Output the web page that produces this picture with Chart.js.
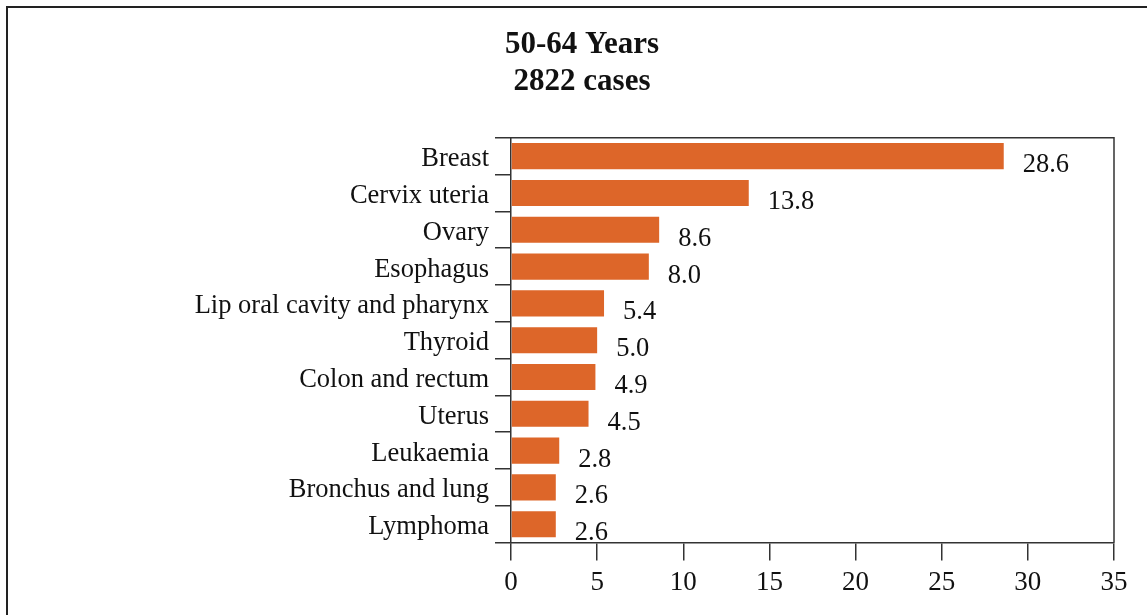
<!DOCTYPE html>
<html>
<head>
<meta charset="utf-8">
<script src="https://cdn.jsdelivr.net/npm/chart.js@4"></script>
<style>
  html, body { margin: 0; padding: 0; background: #fff; overflow: hidden; }
  #frame { position: absolute; left: 6px; top: 6px; width: 1200px; height: 700px; border: 2px solid #222; box-sizing: border-box; }
  #wrap { position: absolute; left: 0; top: 0; width: 1147px; height: 615px; }
</style>
</head>
<body>
<div id="frame"></div>
<div id="wrap"><canvas id="c" width="1147" height="615"></canvas></div>
<script>
const titleLines = ["50-64 Years", "2822 cases"];
const categories = ["Breast", "Cervix uteria", "Ovary", "Esophagus", "Lip oral cavity and pharynx", "Thyroid", "Colon and rectum", "Uterus", "Leukaemia", "Bronchus and lung", "Lymphoma"];
const values = [28.6, 13.8, 8.6, 8.0, 5.4, 5.0, 4.9, 4.5, 2.8, 2.6, 2.6];
const valueLabels = ["28.6", "13.8", "8.6", "8.0", "5.4", "5.0", "4.9", "4.5", "2.8", "2.6", "2.6"];
const xTicks = [0, 5, 10, 15, 20, 25, 30, 35];

const SERIF = "'Liberation Serif', 'Times New Roman', serif";
const AXIS = '#333';

const plotBox = {
  id: 'plotBox',
  afterDatasetsDraw(chart) {
    const { ctx, chartArea: a } = chart;
    ctx.save();
    ctx.strokeStyle = AXIS;
    ctx.lineWidth = 1.5;
    ctx.beginPath();
    ctx.moveTo(a.left, a.top);
    ctx.lineTo(a.right, a.top);
    ctx.lineTo(a.right, a.bottom);
    ctx.stroke();
    ctx.restore();
  }
};

const valueLabelPlugin = {
  id: 'valueLabels',
  afterDatasetsDraw(chart) {
    const { ctx } = chart;
    const meta = chart.getDatasetMeta(0);
    ctx.save();
    ctx.font = "26.5px " + SERIF;
    ctx.fillStyle = '#111';
    ctx.textAlign = 'left';
    ctx.textBaseline = 'middle';
    meta.data.forEach((bar, i) => {
      ctx.fillText(valueLabels[i], bar.x + 19, bar.y + 9);
    });
    ctx.restore();
  }
};

new Chart(document.getElementById('c'), {
  type: 'bar',
  data: {
    labels: categories,
    datasets: [{
      data: values,
      backgroundColor: '#DD6629',
      borderWidth: 0,
      categoryPercentage: 1.0,
      barPercentage: 0.71
    }]
  },
  options: {
    indexAxis: 'y',
    responsive: false,
    animation: false,
    devicePixelRatio: 1,
    layout: { padding: { left: 50, right: 33, top: 0, bottom: 10 } },
    plugins: {
      legend: { display: false },
      tooltip: { enabled: false },
      title: {
        display: true,
        text: titleLines,
        color: '#111',
        font: { family: SERIF, size: 31, weight: 'bold', lineHeight: 1.19 },
        padding: { top: 27, bottom: 37 }
      }
    },
    scales: {
      x: {
        type: 'linear',
        min: 0,
        max: 35,
        afterBuildTicks(scale) { scale.ticks = xTicks.map(v => ({ value: v })); },
        grid: { drawOnChartArea: false, drawTicks: true, tickLength: 18, color: AXIS, lineWidth: 1.5 },
        border: { display: true, color: AXIS, width: 1.5 },
        ticks: { color: '#111', font: { family: SERIF, size: 27 }, padding: 6, maxRotation: 0 }
      },
      y: {
        type: 'category',
        afterFit(scale) { scale.width = 461; },
        grid: { offset: true, drawOnChartArea: false, drawTicks: true, tickLength: 16, color: AXIS, lineWidth: 1.5 },
        border: { display: true, color: AXIS, width: 1.5 },
        ticks: { color: '#111', font: { family: SERIF, size: 26.5 }, padding: 6, labelOffset: 3, autoSkip: false }
      }
    }
  },
  plugins: [plotBox, valueLabelPlugin]
});
</script>
</body>
</html>
